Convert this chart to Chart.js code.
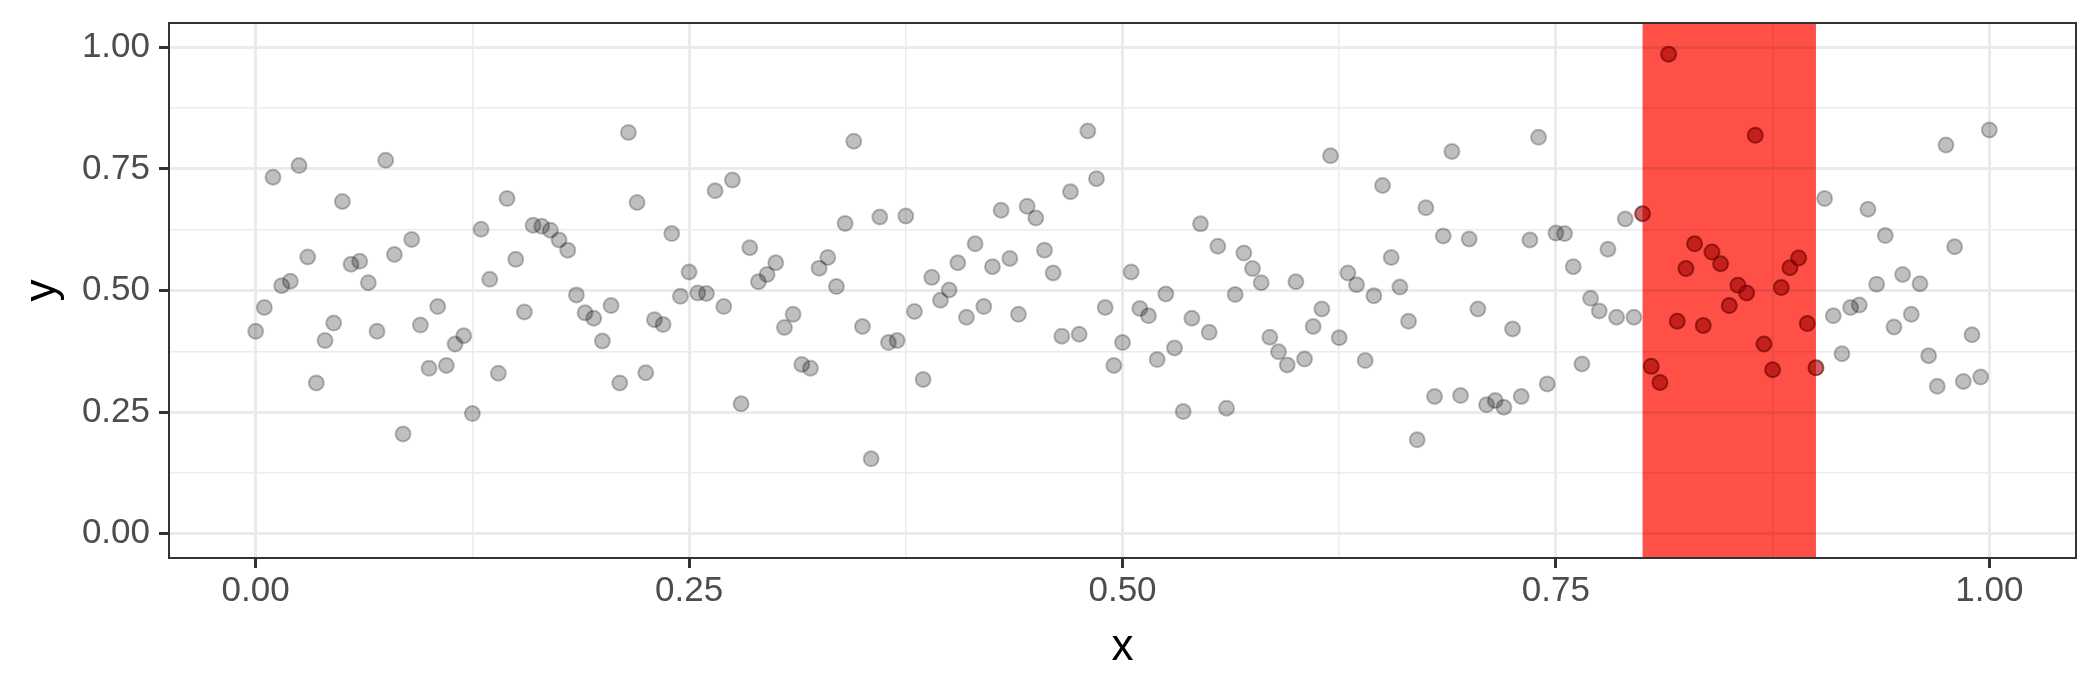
<!DOCTYPE html>
<html>
<head>
<meta charset="utf-8">
<script src="https://cdn.jsdelivr.net/npm/chart.js@4/dist/chart.umd.min.js"></script>
<style>
    html, body { margin: 0; padding: 0; background: #ffffff; }
    #wrap { width: 2100px; height: 690px; }
</style>
</head>
<body>
<div id="wrap"><canvas id="chart" width="2100" height="690"></canvas></div>
<script>
// x positions of the points
const xValues = [
    0.000, 0.005, 0.010, 0.015, 0.020, 0.025, 0.030, 0.035, 0.040, 0.045,
    0.050, 0.055, 0.060, 0.065, 0.070, 0.075, 0.080, 0.085, 0.090, 0.095,
    0.100, 0.105, 0.110, 0.115, 0.120, 0.125, 0.130, 0.135, 0.140, 0.145,
    0.150, 0.155, 0.160, 0.165, 0.170, 0.175, 0.180, 0.185, 0.190, 0.195,
    0.200, 0.205, 0.210, 0.215, 0.220, 0.225, 0.230, 0.235, 0.240, 0.245,
    0.250, 0.255, 0.260, 0.265, 0.270, 0.275, 0.280, 0.285, 0.290, 0.295,
    0.300, 0.305, 0.310, 0.315, 0.320, 0.325, 0.330, 0.335, 0.340, 0.345,
    0.350, 0.355, 0.360, 0.365, 0.370, 0.375, 0.380, 0.385, 0.390, 0.395,
    0.400, 0.405, 0.410, 0.415, 0.420, 0.425, 0.430, 0.435, 0.440, 0.445,
    0.450, 0.455, 0.460, 0.465, 0.470, 0.475, 0.480, 0.485, 0.490, 0.495,
    0.500, 0.505, 0.510, 0.515, 0.520, 0.525, 0.530, 0.535, 0.540, 0.545,
    0.550, 0.555, 0.560, 0.565, 0.570, 0.575, 0.580, 0.585, 0.590, 0.595,
    0.600, 0.605, 0.610, 0.615, 0.620, 0.625, 0.630, 0.635, 0.640, 0.645,
    0.650, 0.655, 0.660, 0.665, 0.670, 0.675, 0.680, 0.685, 0.690, 0.695,
    0.700, 0.705, 0.710, 0.715, 0.720, 0.725, 0.730, 0.735, 0.740, 0.745,
    0.750, 0.755, 0.760, 0.765, 0.770, 0.775, 0.780, 0.785, 0.790, 0.795,
    0.800, 0.805, 0.810, 0.815, 0.820, 0.825, 0.830, 0.835, 0.840, 0.845,
    0.850, 0.855, 0.860, 0.865, 0.870, 0.875, 0.880, 0.885, 0.890, 0.895,
    0.900, 0.905, 0.910, 0.915, 0.920, 0.925, 0.930, 0.935, 0.940, 0.945,
    0.950, 0.955, 0.960, 0.965, 0.970, 0.975, 0.980, 0.985, 0.990, 0.995,
    1.000
];

// y values
const yValues = [
    0.416, 0.465, 0.733, 0.510, 0.519, 0.757, 0.569, 0.310, 0.397, 0.433,
    0.683, 0.554, 0.560, 0.516, 0.416, 0.768, 0.574, 0.205, 0.605, 0.429,
    0.340, 0.467, 0.346, 0.390, 0.407, 0.247, 0.626, 0.523, 0.330, 0.689,
    0.564, 0.456, 0.634, 0.632, 0.624, 0.604, 0.583, 0.491, 0.454, 0.443,
    0.396, 0.469, 0.310, 0.825, 0.681, 0.331, 0.440, 0.430, 0.617, 0.488,
    0.538, 0.495, 0.494, 0.705, 0.467, 0.727, 0.267, 0.588, 0.518, 0.533,
    0.557, 0.424, 0.451, 0.348, 0.340, 0.546, 0.568, 0.508, 0.638, 0.807,
    0.426, 0.154, 0.651, 0.393, 0.397, 0.653, 0.457, 0.317, 0.527, 0.480,
    0.501, 0.557, 0.445, 0.596, 0.467, 0.549, 0.665, 0.566, 0.451, 0.673,
    0.649, 0.583, 0.536, 0.406, 0.703, 0.410, 0.828, 0.730, 0.465, 0.346,
    0.393, 0.538, 0.463, 0.448, 0.358, 0.493, 0.382, 0.251, 0.443, 0.637,
    0.414, 0.591, 0.258, 0.492, 0.577, 0.545, 0.516, 0.404, 0.374, 0.347,
    0.518, 0.359, 0.426, 0.462, 0.777, 0.403, 0.536, 0.512, 0.356, 0.489,
    0.716, 0.568, 0.507, 0.437, 0.193, 0.670, 0.282, 0.612, 0.786, 0.284,
    0.606, 0.462, 0.265, 0.274, 0.260, 0.421, 0.282, 0.604, 0.815, 0.308,
    0.618, 0.617, 0.549, 0.349, 0.484, 0.458, 0.585, 0.445, 0.647, 0.445,
    0.658, 0.344, 0.311, 0.986, 0.437, 0.545, 0.596, 0.428, 0.579, 0.555,
    0.469, 0.511, 0.495, 0.819, 0.390, 0.337, 0.506, 0.547, 0.567, 0.432,
    0.341, 0.689, 0.448, 0.370, 0.465, 0.470, 0.667, 0.513, 0.613, 0.425,
    0.533, 0.451, 0.514, 0.366, 0.303, 0.799, 0.590, 0.313, 0.409, 0.322,
    0.830
];

// highlighted x interval
const bandStart = 0.8;
const bandEnd = 0.9;

// ticks
const majorTicks = [0, 0.25, 0.5, 0.75, 1];
const minorTicks = [0.125, 0.375, 0.625, 0.875];

const allTicks = majorTicks.concat(minorTicks).sort((a, b) => a - b);
const isMajor = v => majorTicks.some(m => Math.abs(m - v) < 1e-9);
const inBand = x => x >= bandStart - 1e-9 && x <= bandEnd + 1e-9;

const points = xValues.map((x, i) => ({ x: x, y: yValues[i] }));

function axisOptions(titleText, isX) {
    return {
        type: 'linear',
        min: -0.05,
        max: 1.05,
        afterBuildTicks: scale => {
            scale.ticks = allTicks.map(v => ({ value: v }));
        },
        afterFit: scale => {
            if (isX) scale.height = 690 - 558;
            else scale.width = 169;
            // no extra room for edge labels, the layout padding does it
            scale.paddingTop = 0;
            scale.paddingBottom = 0;
            scale.paddingLeft = 0;
            scale.paddingRight = 0;
        },
        border: { display: false },
        grid: {
            color: '#EBEBEB',
            lineWidth: ctx => isMajor(ctx.tick.value) ? 3 : 1.5,
            tickColor: ctx => isMajor(ctx.tick.value) ? '#333333' : 'rgba(0,0,0,0)',
            tickLength: 10,
            tickWidth: 3,
            drawTicks: true
        },
        ticks: {
            autoSkip: false,
            maxRotation: 0,
            padding: isX ? 2 : 9,
            color: '#4D4D4D',
            font: { family: '"Liberation Sans", Arial, sans-serif', size: 35 },
            callback: v => isMajor(v) ? v.toFixed(2) : ''
        },
        title: {
            display: true,
            text: titleText,
            color: '#000000',
            font: { family: '"Liberation Sans", Arial, sans-serif', size: 44 },
            padding: isX ? { top: 0, bottom: 16 } : { top: 16, bottom: 0 }
        }
    };
}

const bandPlugin = {
    id: 'band',
    beforeDatasetsDraw(chart) {
        const { ctx, chartArea, scales } = chart;
        const x0 = scales.x.getPixelForValue(bandStart);
        const x1 = scales.x.getPixelForValue(bandEnd);
        ctx.save();
        ctx.globalCompositeOperation = 'multiply';
        ctx.fillStyle = 'rgb(255, 80, 72)';
        ctx.fillRect(x0, chartArea.top, x1 - x0, chartArea.bottom - chartArea.top);
        ctx.restore();
    }
};

const panelBorder = {
    id: 'panelBorder',
    afterDraw(chart) {
        const { ctx, chartArea } = chart;
        ctx.save();
        ctx.strokeStyle = '#333333';
        ctx.lineWidth = 2;
        ctx.strokeRect(chartArea.left, chartArea.top,
            chartArea.right - chartArea.left, chartArea.bottom - chartArea.top);
        ctx.restore();
    }
};

new Chart(document.getElementById('chart'), {
    type: 'scatter',
    data: {
        datasets: [{
            data: points,
            pointRadius: 7.5,
            pointHoverRadius: 7.5,
            borderWidth: 2,
            pointBackgroundColor: ctx => inBand(ctx.raw.x) ? 'rgba(160, 0, 0, 0.6)' : 'rgba(0, 0, 0, 0.25)',
            pointBorderColor: ctx => inBand(ctx.raw.x) ? 'rgba(100, 0, 0, 0.6)' : 'rgba(0, 0, 0, 0.25)'
        }]
    },
    options: {
        responsive: false,
        animation: false,
        devicePixelRatio: 1,
        layout: { padding: { top: 23, right: 24, left: 0, bottom: 0 } },
        plugins: {
            legend: { display: false },
            tooltip: { enabled: false }
        },
        scales: {
            x: axisOptions('x', true),
            y: axisOptions('y', false)
        }
    },
    plugins: [bandPlugin, panelBorder]
});
</script>
</body>
</html>
